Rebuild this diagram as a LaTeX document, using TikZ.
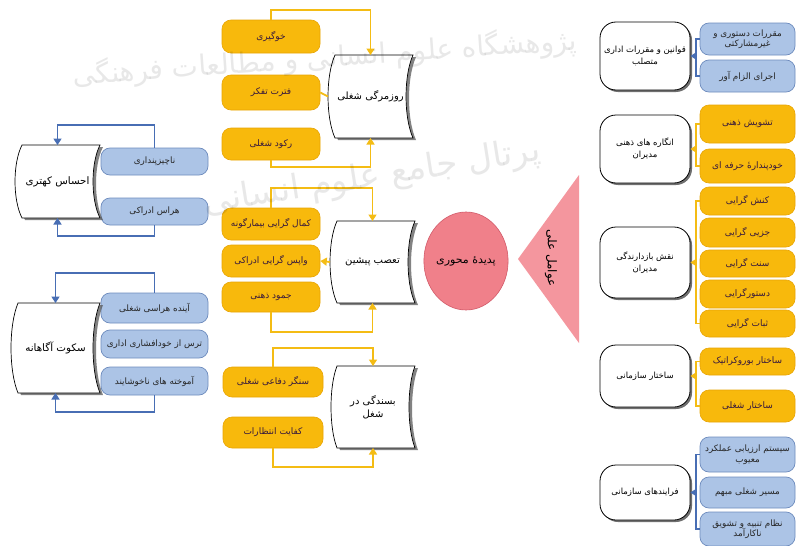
\documentclass[tikz,border=0pt]{standalone}
\usepackage{fontspec}
\usetikzlibrary{shapes.geometric,arrows.meta,calc,shadows}
\TeXXeTstate=1
\newfontfamily\arabicfont[Script=Arabic]{DejaVu Sans}
\newcommand\fa[1]{{\arabicfont\beginR #1\endR}}
\definecolor{ygold}{RGB}{248,185,12}
\definecolor{yedge}{RGB}{232,165,5}
\definecolor{ylinec}{RGB}{244,188,20}
\definecolor{bfill}{RGB}{172,196,230}
\definecolor{bedge}{RGB}{110,140,190}
\definecolor{blinec}{RGB}{72,110,180}
\definecolor{pinkc}{RGB}{240,128,138}
\definecolor{pinkt}{RGB}{244,150,158}
\definecolor{pedge}{RGB}{210,90,105}
\definecolor{ytext}{RGB}{55,25,60}
% stored-data shape: name, cx, cy, w, h, d, text
\newcommand\sdshape[7]{%
 \fill[black!65,opacity=0.75,shift={(3,2)}] ({#2-#4/2},{#3-#5/2}) -- ({#2+#4/2},{#3-#5/2})
   .. controls ({#2+#4/2-1.33*#6},{#3-#5/4}) and ({#2+#4/2-1.33*#6},{#3+#5/4}) .. ({#2+#4/2},{#3+#5/2})
   -- ({#2-#4/2},{#3+#5/2})
   .. controls ({#2-#4/2-1.33*#6},{#3+#5/4}) and ({#2-#4/2-1.33*#6},{#3-#5/4}) .. cycle;
 \draw[sdbody] ({#2-#4/2},{#3-#5/2}) -- ({#2+#4/2},{#3-#5/2})
   .. controls ({#2+#4/2-1.33*#6},{#3-#5/4}) and ({#2+#4/2-1.33*#6},{#3+#5/4}) .. ({#2+#4/2},{#3+#5/2})
   -- ({#2-#4/2},{#3+#5/2})
   .. controls ({#2-#4/2-1.33*#6},{#3+#5/4}) and ({#2-#4/2-1.33*#6},{#3-#5/4}) .. cycle;
 \node[sdtext,minimum width=#4,minimum height=#5] (#1) at ({#2-#6/2},#3) {#7};}
\begin{document}
\begin{tikzpicture}[x=1pt,y=-1pt,
  wh/.style 2 args={minimum width=#1,minimum height=#2},
  ybox/.style={rectangle,rounded corners=9,fill=ygold,draw=yedge,line width=0.6,text=ytext,
     font=\fontsize{9}{11}\selectfont,inner sep=1,align=center},
  bbox/.style={rectangle,rounded corners=9,fill=bfill,draw=bedge,line width=0.7,text=black!85,
     font=\fontsize{8.8}{10.5}\selectfont,inner sep=1,align=center},
  wbox/.style={rectangle,rounded corners=16,fill=white,draw=black,line width=0.8,align=center,
     font=\fontsize{8.5}{12}\selectfont,inner sep=1,
     drop shadow={shadow xshift=2pt,shadow yshift=-2pt,fill=black!70,opacity=0.8}},
  sdbody/.style={fill=white,draw=black,line width=0.7},
  sdtext/.style={rectangle,inner sep=0,outer sep=0,align=center,font=\fontsize{10}{13}\selectfont},
  yc/.style={draw=ylinec,line width=1.8},
  ya/.style={yc,-{Triangle[width=8,length=6.5]}},
  bc/.style={draw=blinec,line width=1.8},
  ba/.style={bc,-{Triangle[width=8,length=6.5]}},
  wm/.style={text=black,opacity=0.09,font=\fontsize{28}{30}\selectfont,inner sep=0}]
\useasboundingbox (0,0) rectangle (796,546);
\fill[white] (0,0) rectangle (796,546);

% ---------- right column ----------
\node[wbox,wh={90}{68}] (R1) at (645,56) {\fa{قوانین و مقررات اداری}\\\fa{متصلب}};
\node[wbox,wh={90}{68}] (R2) at (645,149) {\fa{انگاره های ذهنی}\\\fa{مدیران}};
\node[wbox,wh={90}{71}] (R3) at (645,262.5) {\fa{نقش بازدارندگی}\\\fa{مدیران}};
\node[wbox,wh={90}{62}] (R4) at (645,376) {\fa{ساختار سازمانی}};
\node[wbox,wh={90}{55}] (R5) at (645,492.5) {\fa{فرایندهای سازمانی}};

\node[bbox,wh={95}{32}] (RB1) at (747.5,39) {\fa{مقررات دستوری و}\\\fa{غیرمشارکتی}};
\node[bbox,wh={95}{32}] (RB2) at (747.5,76) {\fa{اجرای الزام آور}};
\node[ybox,wh={95}{38}] (RY1) at (747.5,124) {\fa{تشویش ذهنی}};
\node[ybox,wh={95}{34}] (RY2) at (747.5,166) {\fa{خودپندارهٔ حرفه ای}};
\node[ybox,wh={95}{28}] (RY3) at (747.5,201) {\fa{کنش گرایی}};
\node[ybox,wh={95}{29}] (RY4) at (747.5,232.5) {\fa{جزیی گرایی}};
\node[ybox,wh={95}{27}] (RY5) at (747.5,263.5) {\fa{سنت گرایی}};
\node[ybox,wh={95}{28}] (RY6) at (747.5,294) {\fa{دستورگرایی}};
\node[ybox,wh={95}{27}] (RY7) at (747.5,323.5) {\fa{ثبات گرایی}};
\node[ybox,wh={95}{27}] (RY8) at (747.5,361.5) {\fa{ساختار بوروکراتیک}};
\node[ybox,wh={95}{32}] (RY9) at (747.5,406) {\fa{ساختار شغلی}};
\node[bbox,wh={95}{35}] (RB3) at (747.5,454.5) {\fa{سیستم ارزیابی عملکرد}\\\fa{معیوب}};
\node[bbox,wh={95}{31}] (RB4) at (747.5,492.5) {\fa{مسیر شغلی مبهم}};
\node[bbox,wh={95}{34}] (RB5) at (747.5,529) {\fa{نظام تنبیه و تشویق}\\\fa{ناکارآمد}};

\draw[bc] (RB1.west) -- ++(-4,0) |- (RB2.west);
\draw[ba] (R1.east -| RB1.west) ++(-4,0) -- (R1.east);
\draw[yc] (RY1.west) -- ++(-4,0) |- (RY2.west);
\draw[ya] (R2.east -| RY1.west) ++(-4,0) -- (R2.east);
\draw[yc] (RY3.west) -- ++(-4,0) |- (RY7.west);
\draw[ya] (R3.east -| RY3.west) ++(-4,0) -- (R3.east);
\draw[yc] (RY8.west) -- ++(-4,0) |- (RY9.west);
\draw[ya] (R4.east -| RY8.west) ++(-4,0) -- (R4.east);
\draw[bc] (RB3.west) -- ++(-4,0) |- (RB5.west);
\draw[ba] (R5.east -| RB3.west) ++(-4,0) -- (R5.east);

% ---------- centre ----------
\fill[pinkt] (518,259) -- (579,175) -- (579,343) -- cycle;
\node[rotate=-90,font=\fontsize{12}{14}\selectfont,inner sep=0] (cause) at (551,258) {\fa{عوامل علی}};
\node[ellipse,fill=pinkc,draw=pedge,line width=0.6,minimum width=82,minimum height=98,inner sep=0,
      font=\fontsize{11}{13}\selectfont] (core) at (466,261) {\fa{پدیدهٔ محوری}};

% ---------- middle column ----------
\node[ybox,wh={98}{33}] (M1) at (271,36.5) {\fa{خوگیری}};
\node[ybox,wh={98}{35}] (M2) at (271,92.5) {\fa{فترت تفکر}};
\node[ybox,wh={98}{32}] (M3) at (271,144) {\fa{رکود شغلی}};
\node[ybox,wh={98}{32}] (M4) at (271,224) {\fa{کمال گرایی بیمارگونه}};
\node[ybox,wh={98}{32}] (M5) at (271,261) {\fa{واپس گرایی ادراکی}};
\node[ybox,wh={98}{30}] (M6) at (271,297) {\fa{جمود ذهنی}};
\node[ybox,wh={100}{30}] (M7) at (273,382) {\fa{سنگر دفاعی شغلی}};
\node[ybox,wh={100}{31}] (M8) at (273,432.5) {\fa{کفایت انتظارات}};

\sdshape{S1}{374}{96.5}{78}{83}{7}{\fa{روزمرگی شغلی}}
\sdshape{S2}{376}{262}{78}{82}{7}{\fa{تعصب پیشین}}
\sdshape{S3}{376}{407}{78}{82}{6}{\fa{بسندگی در}\\\fa{شغل}}

\draw[ya] (M1.north) -- ++(0,-10) -| (S1.north);
\draw[ya] (M3.south) -- ++(0,7) -| (S1.south);
\draw[yc] (M2.east) -- ($(S1.west)+(-3.5,0)$);
\draw[ya] (M4.north) -- ++(0,-20) -| (S2.north);
\draw[ya] (M6.south) -- ++(0,20) -| (S2.south);
\draw[ya] ($(S2.west)+(-3.5,0)$) -- (M5.east);
\draw[ya] (M7.north) -- ++(0,-19) -| (S3.north);
\draw[ya] (M8.south) -- ++(0,19) -| (S3.south);

% ---------- left column ----------
\node[bbox,wh={107}{27}] (B1) at (154.5,161.5) {\fa{ناچیزپنداری}};
\node[bbox,wh={107}{27}] (B2) at (154.5,211.5) {\fa{هراس ادراکی}};
\node[bbox,wh={107}{30}] (B3) at (154.5,308) {\fa{آینده هراسی شغلی}};
\node[bbox,wh={107}{28}] (B4) at (154.5,344) {\fa{ترس از خودافشاری اداری}};
\node[bbox,wh={107}{28}] (B5) at (154.5,381) {\fa{آموخته های ناخوشایند}};

\begin{scope}[sdtext/.append style={font=\fontsize{10.3}{13}\selectfont}]
\sdshape{L1}{61}{181.5}{78}{73}{7}{\fa{احساس کهتری}}
\sdshape{L2}{59}{348}{82}{90}{7}{\fa{سکوت آگاهانه}}
\end{scope}

\draw[ba] (B1.north) -- ++(0,-23) -| (L1.north);
\draw[ba] (B2.south) -- ++(0,11) -| (L1.south);
\draw[ba] (B3.north) -- ++(0,-20) -| (L2.north);
\draw[ba] (B5.south) -- ++(0,17) -| (L2.south);

% ---------- watermark ----------
\node[wm,rotate=4] (wm1) at (325,58) {\fa{پژوهشگاه علوم انسانی و مطالعات فرهنگی}};
\node[wm,rotate=9,font=\fontsize{34}{36}\selectfont] (wm2) at (372,178) {\fa{پرتال جامع علوم انسانی}};
\end{tikzpicture}
\end{document}
